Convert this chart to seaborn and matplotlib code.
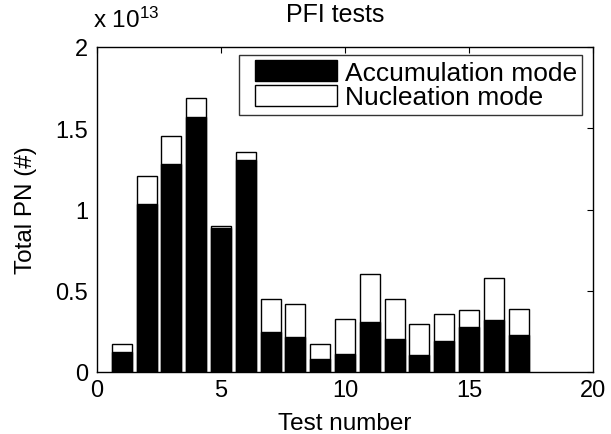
import matplotlib
matplotlib.use("Agg")
import matplotlib.pyplot as plt
from matplotlib.patches import Patch, Rectangle
from matplotlib.legend_handler import HandlerPatch
import seaborn as sns
import pandas as pd

tests = list(range(1, 18))
# values in units of 1e13
accumulation = [0.121, 1.034, 1.280, 1.571, 0.888, 1.305, 0.248, 0.213, 0.080,
                0.113, 0.306, 0.201, 0.106, 0.193, 0.275, 0.322, 0.226]
nucleation = [0.051, 0.174, 0.174, 0.113, 0.010, 0.049, 0.199, 0.207, 0.092,
              0.213, 0.295, 0.246, 0.191, 0.166, 0.106, 0.258, 0.160]
total = [a + n for a, n in zip(accumulation, nucleation)]

df = pd.DataFrame({"test": tests, "acc": accumulation, "total": total})

sns.set_theme(style="white")
plt.rcParams['font.family'] = ['Liberation Sans', 'DejaVu Sans']
plt.rcParams['mathtext.default'] = 'regular'

W, H = 611, 435
L, R, T, B = 97, 593, 48, 373
fig = plt.figure(figsize=(W / 100, H / 100), dpi=100)
ax = fig.add_axes([L / W, 1 - B / H, (R - L) / W, (B - T) / H])

sns.barplot(data=df, x="test", y="total", native_scale=True, color="white",
            edgecolor="black", linewidth=1.0, width=0.8, ax=ax, saturation=1)
sns.barplot(data=df, x="test", y="acc", native_scale=True, color="black",
            edgecolor="black", linewidth=1.0, width=0.8, ax=ax, saturation=1)

ax.set_xlim(0, 20)
ax.set_ylim(0, 2)
ax.set_xticks([0, 5, 10, 15, 20])
ax.set_yticks([0, 0.5, 1, 1.5, 2])
ax.set_xticklabels(["0", "5", "10", "15", "20"])
ax.set_yticklabels(["0", "0.5", "1", "1.5", "2"])
ax.tick_params(direction="in", length=4, width=0.8, top=True, right=True,
               labelsize=17, colors="black")
ax.tick_params(axis="x", pad=5)
ax.tick_params(axis="y", pad=6.5)
for s in ax.spines.values():
    s.set_visible(True)
    s.set_color("black")
    s.set_linewidth(1.0)

ax.set_xlabel("Test number", fontsize=17.5, color="black")
ax.xaxis.label.set_va("baseline")
ax.xaxis.set_label_coords(0.5, (B - 430) / (B - T))
ax.set_ylabel("Total PN (#)", fontsize=17.5, color="black")
ax.yaxis.label.set_va("center")
ax.yaxis.set_label_coords((26 - L) / (R - L), 0.5)

ax.set_title("PFI tests", fontsize=18, color="black",
             x=(335.5 - L) / (R - L), y=(B - 30) / (B - T), va="baseline")
fig.text(93 / W, 1 - 28 / H, "x 10$^{13}$", fontsize=17.5, ha="left",
         va="baseline", color="black")


def make_rect(legend, orig_handle, xdescent, ydescent, width, height, fontsize):
    gap = 10.7 * 72 / 100  # points of empty space before the swatch
    return Rectangle((-xdescent + gap, -ydescent), width - gap, height)


handles = [Patch(facecolor="black", edgecolor="black", label="Accumulation mode"),
           Patch(facecolor="white", edgecolor="black", label="Nucleation mode")]
fs = 19
fs_px = fs * 100 / 72
leg = ax.legend(handles=handles, loc="upper right",
                bbox_to_anchor=(582 / W, 1 - 56 / H),
                bbox_transform=fig.transFigure, fontsize=fs, frameon=True,
                fancybox=False, edgecolor="black",
                handlelength=(82 + 10.7) / fs_px, handleheight=22 / fs_px,
                borderaxespad=0, labelspacing=0.0, handletextpad=8 / fs_px,
                borderpad=0.2,
                handler_map={Patch: HandlerPatch(patch_func=make_rect)})
leg.get_frame().set_linewidth(1.0)
for t in leg.get_texts():
    t.set_color("black")

fig.savefig("out.png", dpi=100)
